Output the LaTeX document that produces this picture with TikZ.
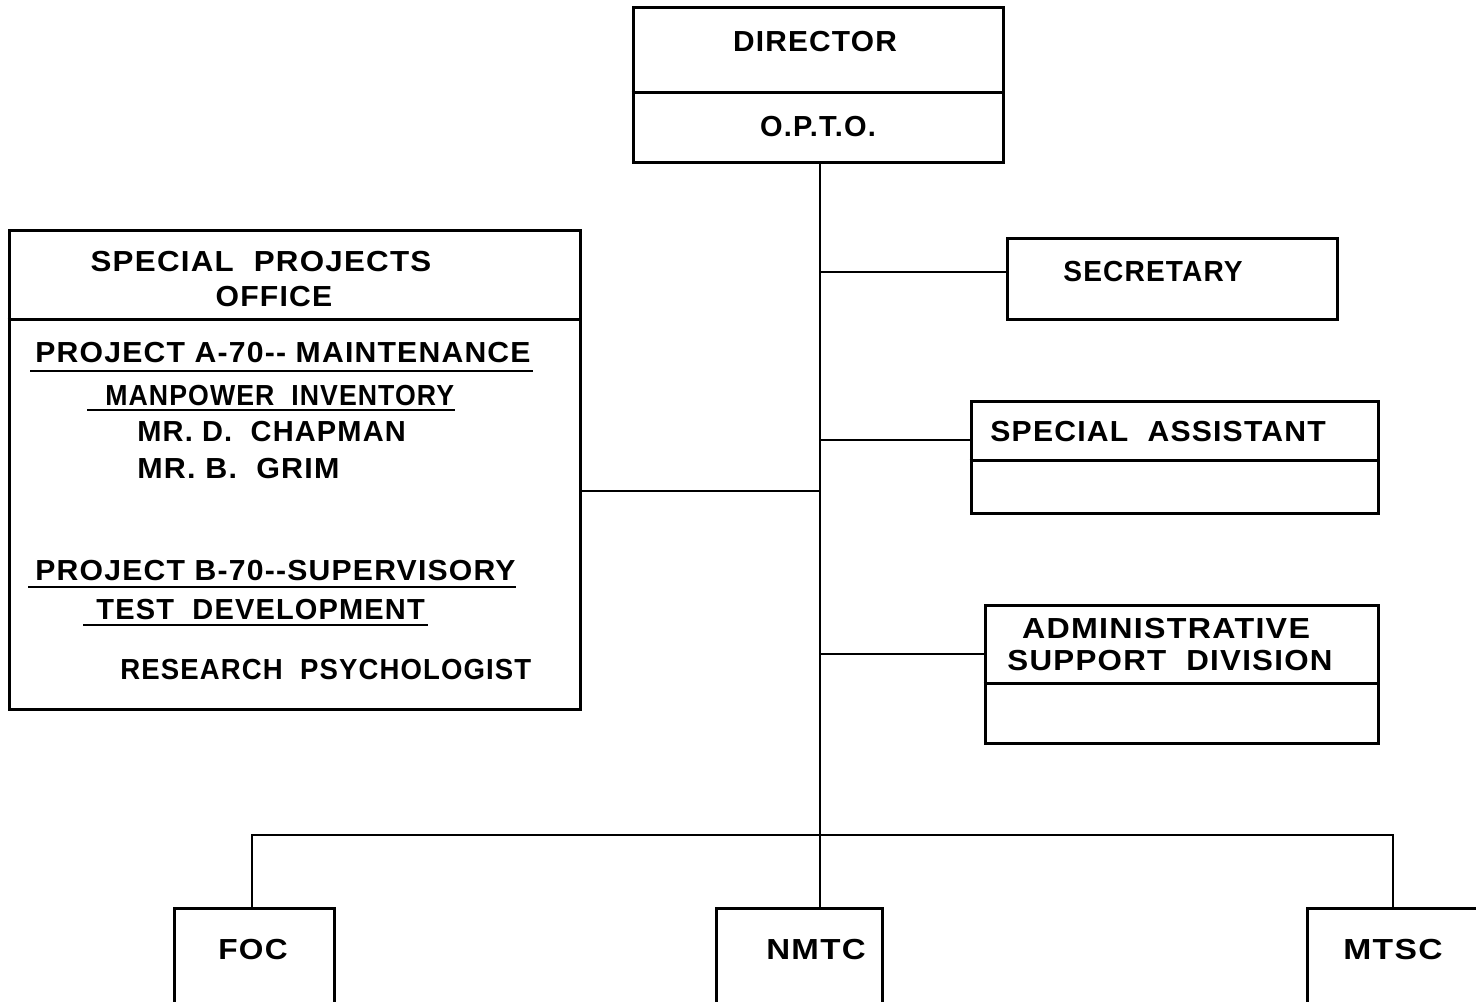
\documentclass[tikz,border=0pt]{standalone}
\usepackage{graphicx}
\usepackage{fontspec}
\setmainfont{Liberation Sans}[LetterSpace=4]
\usetikzlibrary{calc}
\newcommand{\sx}[2]{\scalebox{#1}[1]{#2}}
\begin{document}
\begin{tikzpicture}[x=0.5pt,y=-0.5pt,
  box/.style={draw,line width=1.5pt,rectangle,inner sep=0pt},
  conn/.style={line width=1.1pt},
  txt/.style={inner sep=0pt,font=\fontsize{14.5}{17}\selectfont\bfseries},
  uline/.style={line width=1pt}]
\useasboundingbox (0,0) rectangle (1476,1001);
\clip (0,0) rectangle (1476,1001);
% boxes
\node[box,minimum width=185pt,minimum height=77.5pt] (dir) at (818,84.5) {};
\node[box,minimum width=165pt,minimum height=40.5pt] (sec) at (1172,278.5) {};
\node[box,minimum width=203.5pt,minimum height=56pt] (sa) at (1174.5,457) {};
\node[box,minimum width=196.5pt,minimum height=69pt] (asd) at (1181.5,674) {};
\node[box,minimum width=285.5pt,minimum height=239.5pt] (spo) at (294.5,469.5) {};
\node[box,minimum width=80pt,minimum height=51pt] (foc) at (254,959) {};
\node[box,minimum width=83pt,minimum height=51pt] (nmtc) at (799,959) {};
\node[box,minimum width=91.5pt,minimum height=51pt] (mtsc) at (1398.5,959) {};
% dividers
\draw[line width=1.5pt] (dir.west |- 0,92) -- (dir.east |- 0,92);
\draw[line width=1.5pt] (sa.west |- 0,460) -- (sa.east |- 0,460);
\draw[line width=1.5pt] (asd.west |- 0,683) -- (asd.east |- 0,683);
\draw[line width=1.5pt] (spo.west |- 0,319) -- (spo.east |- 0,319);
% texts
\node[txt] (tdir) at (815,42) {\sx{1.03}{DIRECTOR}};
\node[txt] (topto) at (818,127) {O.P.T.O.};
\node[txt,anchor=west] (tsec) at (1063,272) {\sx{0.97}{SECRETARY}};
\node[txt,anchor=west] (tsa) at (990,432) {\sx{1.04}{SPECIAL\ \ ASSISTANT}};
\node[txt] (tasd1) at (1166,629) {\sx{1.11}{ADMINISTRATIVE}};
\node[txt] (tasd2) at (1170,661) {\sx{1.08}{SUPPORT\ \ DIVISION}};
\node[txt] (tspo1) at (261,262) {\sx{1.08}{SPECIAL\ \ PROJECTS}};
\node[txt] (tspo2) at (274,297) {\sx{1.04}{OFFICE}};
\node[txt,anchor=west] (pa) at (35,353) {\sx{1.04}{PROJECT A-70-{}- MAINTENANCE}};
\node[txt,anchor=west] (pa2) at (105,396) {\sx{0.92}{MANPOWER\ \ INVENTORY}};
\node[txt,anchor=west] (chap) at (137,432) {MR.\ D.\ \ CHAPMAN};
\node[txt,anchor=west] (grim) at (137,469) {\sx{1.05}{MR.\ B.\ \ GRIM}};
\node[txt,anchor=west] (pb) at (35,571) {\sx{1.04}{PROJECT B-70-{}-SUPERVISORY}};
\node[txt,anchor=west] (pb2) at (96,610) {TEST\ \ DEVELOPMENT};
\node[txt,anchor=west] (rp) at (120,670) {\sx{0.95}{RESEARCH\ \ PSYCHOLOGIST}};
\node[txt] (tfoc) at (253,950) {\sx{1.09}{FOC}};
\node[txt] (tnmtc) at (816,950) {\sx{1.14}{NMTC}};
\node[txt] (tmtsc) at (1393,950) {\sx{1.16}{MTSC}};
% underlines
\draw[uline] (30,371) -- (533,371);
\draw[uline] (87,410) -- (455,410);
\draw[uline] (28,587) -- (516,587);
\draw[uline] (83,625) -- (428,625);
% connectors
\coordinate (bus) at (820,835);
\draw[conn] (dir.south -| bus) -- (bus);
\draw[conn] (820,272) -- (sec.west |- 0,272);
\draw[conn] (820,440) -- (sa.west |- 0,440);
\draw[conn] (820,654) -- (asd.west |- 0,654);
\draw[conn] (spo.east |- 0,491) -- (820,491);
\draw[conn] (foc.north -| 252,0) -- (252,835) -- (1393,835) -- (mtsc.north -| 1393,0);
\draw[conn] (bus) -- (nmtc.north -| bus);
\end{tikzpicture}
\end{document}
